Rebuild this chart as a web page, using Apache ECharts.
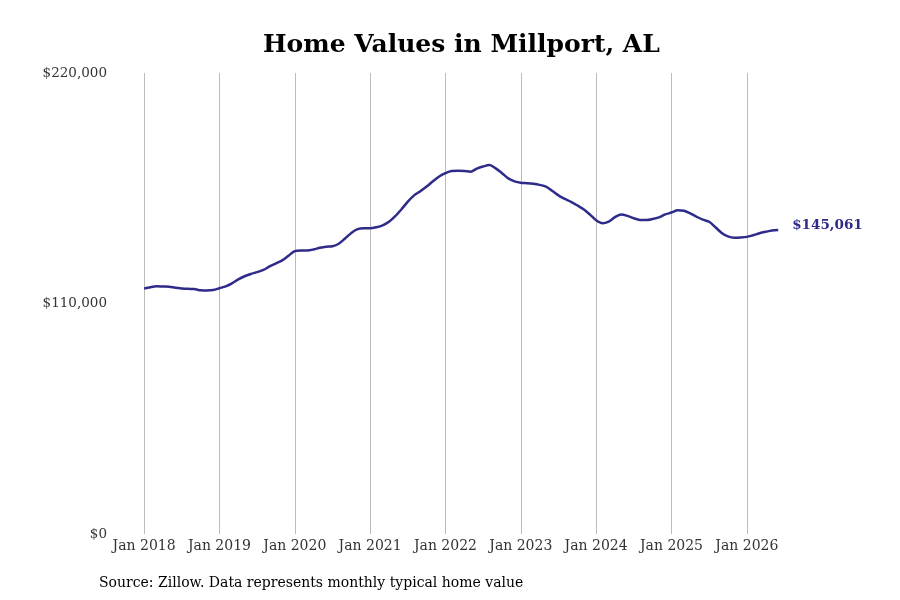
<!DOCTYPE html>
<html>
<head>
<meta charset="utf-8">
<script src="https://cdn.jsdelivr.net/npm/echarts@6/dist/echarts.min.js"></script>
<style>html,body{margin:0;padding:0;background:#fff;}#c{width:900px;height:600px;}</style>
</head>
<body>
<div id="c"></div>
<script>
// Monthly typical home values, Jan 2018 .. Jun 2026
const values = [
  117200,117800,118200,118100,118000,117500,117200,117000,116900,116300,116200,116400,
  117300,118200,119600,121500,123000,124100,125000,126000,127700,129100,130600,132800,
  135000,135300,135300,135800,136600,137100,137300,138500,141000,143700,145500,145900,
  145900,146400,147300,149000,151700,155000,158600,161600,163600,165800,168300,170600,
  172200,173200,173300,173200,172900,174400,175400,176100,174500,172200,169700,168300,
  167600,167400,167100,166600,165800,163800,161600,159900,158500,156800,155000,152500,
  149700,148300,149100,151200,152500,151800,150700,149900,149800,150300,151100,152500,
  153400,154500,154300,153000,151400,150000,149000,146400,143700,142000,141400,141500,
  141800,142600,143500,144200,144800,145061
];
const monthNames = ['Jan','Feb','Mar','Apr','May','Jun','Jul','Aug','Sep','Oct','Nov','Dec'];
const yTicks = [0, 110000, 220000];
const titleText = 'Home Values in Millport, AL';
const sourceText = 'Source: Zillow. Data represents monthly typical home value';

// axis spans Sep 2017 .. Apr 2027
const padBefore = 4, totalMonths = 116;
const categories = [];
for (let i = 0; i < totalMonths; i++) {
  const abs = 2017 * 12 + 8 + i;
  categories.push(monthNames[abs % 12] + ' ' + Math.floor(abs / 12));
}
const seriesData = categories.map((c, i) => {
  const k = i - padBefore;
  return (k >= 0 && k < values.length) ? values[k] : '-';
});
const isJan = (idx) => categories[idx].startsWith('Jan') && idx >= padBefore && idx < padBefore + values.length + 1;

const font = '"DejaVu Serif", serif';
const lineColor = '#2e2b8a';
const chart = echarts.init(document.getElementById('c'));
chart.setOption({
  backgroundColor: '#fff',
  animation: false,
  title: [{
    text: titleText,
    left: 258, top: 28,
    textStyle: { fontFamily: font, fontSize: 25, fontWeight: 'bold', color: '#000' }
  }, {
    text: sourceText,
    left: 94, top: 571,
    textStyle: { fontFamily: font, fontSize: 14, fontWeight: 'normal', color: '#000' }
  }],
  grid: { left: 119, right: 59, top: 73, bottom: 66, containLabel: false },
  xAxis: {
    type: 'category',
    data: categories,
    boundaryGap: false,
    axisLine: { show: false },
    axisTick: { show: false },
    axisLabel: {
      interval: (idx) => isJan(idx),
      fontFamily: font, fontSize: 14, color: '#333', margin: 5
    },
    splitLine: { show: true, interval: (idx) => isJan(idx), lineStyle: { color: '#bbbbbb', width: 1 } }
  },
  yAxis: {
    type: 'value',
    min: 0, max: 220000, interval: 110000,
    axisLine: { show: false },
    axisTick: { show: false },
    splitLine: { show: false },
    axisLabel: {
      fontFamily: font, fontSize: 13.5, color: '#333', margin: 12,
      formatter: (v) => '$' + v.toLocaleString('en-US')
    }
  },
  series: [{
    type: 'line',
    data: seriesData,
    smooth: 0.3,
    showSymbol: false,
    connectNulls: false,
    lineStyle: { color: lineColor, width: 2.5 },
    itemStyle: { color: lineColor },
    endLabel: {
      show: true,
      distance: 14,
      offset: [0, -5],
      formatter: (p) => '$' + Number(p.value).toLocaleString('en-US'),
      fontFamily: font, fontSize: 13.5, fontWeight: 'bold', color: lineColor
    }
  }]
});
</script>
</body>
</html>
